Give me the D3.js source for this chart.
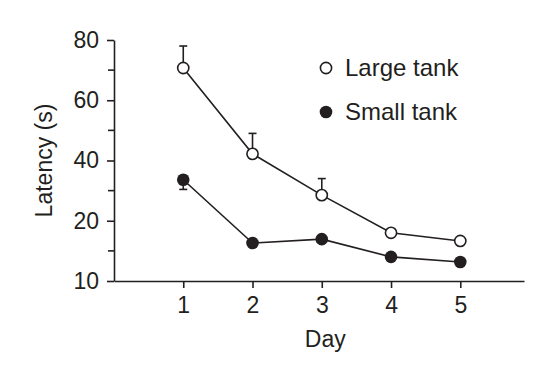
<!DOCTYPE html>
<html>
<head>
<meta charset="utf-8">
<script src="https://cdn.jsdelivr.net/npm/d3@7"></script>
<style>
  body { margin: 0; background: #fff; }
  text { font-family: "Liberation Sans", Arial, sans-serif; fill: #231f20; }
</style>
</head>
<body>
<div id="chart"></div>
<script>
// values (axis units)
const days = [1, 2, 3, 4, 5];
const largeTank = [70.7, 42.2, 28.5, 16, 13.3];
const largeTankErr = [7.3, 6.8, 5.5, 0, 0];
const smallTank = [33.6, 12.6, 13.9, 8, 6.3];
const smallTankErr = [3.2, 0, 0, 0, 0];
const yTicks = [0, 20, 40, 60, 80];
const yTickLabels = ["10", "20", "40", "60", "80"];
const yMinorTicks = [10, 30, 50, 70];

const width = 544, height = 372;
const ink = "#231f20";

const svg = d3.select("#chart").append("svg")
    .attr("width", width)
    .attr("height", height);

const x = d3.scaleLinear().domain([0, 5.92]).range([114, 524]);
const y = d3.scaleLinear().domain([0, 80]).range([281, 40]);

// axes
const xAxis = svg.append("g")
    .attr("transform", "translate(0," + y(0) + ")")
    .call(d3.axisBottom(x).tickValues(days).tickFormat(d3.format("d"))
        .tickSize(7).tickPadding(9).tickSizeOuter(0));

const yAxis = svg.append("g")
    .attr("transform", "translate(" + x(0) + ",0)")
    .call(d3.axisLeft(y).tickValues(yTicks)
        .tickFormat((d, i) => yTickLabels[i])
        .tickSize(7).tickPadding(8).tickSizeOuter(0));

yAxis.selectAll(".minor")
    .data(yMinorTicks)
  .enter().append("line")
    .attr("class", "minor")
    .attr("x1", -6).attr("x2", 0)
    .attr("y1", d => y(d)).attr("y2", d => y(d))
    .attr("stroke", ink).attr("stroke-width", 1.6);

[xAxis, yAxis].forEach(g => {
    g.attr("font-size", null).attr("font-family", null);
    g.selectAll("path, line").attr("stroke", ink).attr("stroke-width", 1.6);
    g.selectAll("text").style("font-size", "23px").attr("fill", ink);
});

// axis titles
svg.append("text")
    .attr("x", x(3.05)).attr("y", 347)
    .attr("text-anchor", "middle")
    .style("font-size", "23px")
    .text("Day");

svg.append("text")
    .attr("transform", "translate(52," + y(40) + ")rotate(-90)")
    .attr("text-anchor", "middle")
    .style("font-size", "23px")
    .text("Latency (s)");

// series
const line = d3.line()
    .x(d => x(d[0]))
    .y(d => y(d[1]));

function drawSeries(values, errs, filled, errUp) {
    const pts = days.map((d, i) => [d, values[i], errs[i]]);

    svg.append("path")
        .datum(pts)
        .attr("d", line)
        .attr("fill", "none")
        .attr("stroke", ink)
        .attr("stroke-width", 1.6);

    const eb = svg.append("g").selectAll("g")
        .data(pts.filter(p => p[2] > 0))
      .enter().append("g");
    eb.append("line")
        .attr("x1", d => x(d[0])).attr("x2", d => x(d[0]))
        .attr("y1", d => y(d[1]))
        .attr("y2", d => y(errUp ? d[1] + d[2] : d[1] - d[2]))
        .attr("stroke", ink).attr("stroke-width", 1.6);
    eb.append("line")
        .attr("x1", d => x(d[0]) - 4).attr("x2", d => x(d[0]) + 4)
        .attr("y1", d => y(errUp ? d[1] + d[2] : d[1] - d[2]))
        .attr("y2", d => y(errUp ? d[1] + d[2] : d[1] - d[2]))
        .attr("stroke", ink).attr("stroke-width", 1.6);

    svg.append("g").selectAll("circle")
        .data(pts)
      .enter().append("circle")
        .attr("cx", d => x(d[0]))
        .attr("cy", d => y(d[1]))
        .attr("r", filled ? 6.3 : 5.6)
        .attr("fill", filled ? ink : "#fff")
        .attr("stroke", ink)
        .attr("stroke-width", filled ? 0 : 1.6);
}

drawSeries(largeTank, largeTankErr, false, true);
drawSeries(smallTank, smallTankErr, true, false);

// legend
const legend = [
    { label: "Large tank", filled: false, cy: 68 },
    { label: "Small tank", filled: true, cy: 112 }
];
const lg = svg.append("g").selectAll("g")
    .data(legend)
  .enter().append("g")
    .attr("transform", d => "translate(326," + d.cy + ")");
lg.append("circle")
    .attr("r", d => d.filled ? 6.3 : 5.6)
    .attr("fill", d => d.filled ? ink : "#fff")
    .attr("stroke", ink)
    .attr("stroke-width", d => d.filled ? 0 : 1.6);
lg.append("text")
    .attr("x", 19).attr("y", 8)
    .style("font-size", "24px")
    .text(d => d.label);
</script>
</body>
</html>
